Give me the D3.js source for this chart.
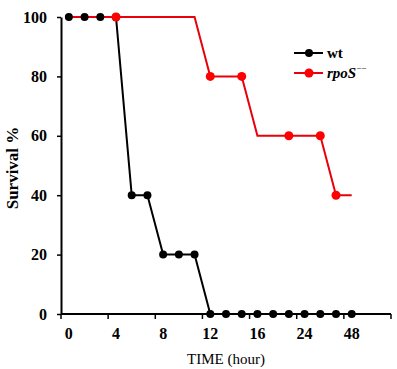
<!DOCTYPE html>
<html>
<head>
<meta charset="utf-8">
<script src="https://cdn.jsdelivr.net/npm/d3@7"></script>
<style>
  html, body { margin: 0; padding: 0; background: #fff; }
  svg { display: block; }
</style>
</head>
<body>
<svg id="chart" width="397" height="369"></svg>
<script>
// ---- data ----
const categories = d3.range(21);               // category slots on the time axis
const tickLabels = ["0", "4", "8", "12", "16", "24", "48"];
const tickLabelSlots = [0, 3, 6, 9, 12, 15, 18];
const yTicks = [0, 20, 40, 60, 80, 100];
const wtValues   = [100,100,100,100,40,40,20,20,20,0,0,0,0,0,0,0,0,0,0];
const wtMarkers  = d3.range(19);
const rpoSValues = [100,100,100,100,100,100,100,100,100,80,80,80,60,60,60,60,60,40,40];
const rpoSMarkers = [3, 9, 11, 14, 16, 17];

const svg = d3.select("#chart");
const font = "'Liberation Serif', 'Times New Roman', serif";

const x = d3.scaleBand().domain(categories).range([61, 391]).padding(0);
const xc = i => x(i) + x.bandwidth() / 2;
const y = d3.scaleLinear().domain([0, 100]).range([314, 17]);

// axes
const yAxis = d3.axisLeft(y).tickValues(yTicks).tickSize(4).tickPadding(10).tickSizeOuter(0);
const gy = svg.append("g").attr("transform", "translate(61,0)").call(yAxis);
gy.select(".domain").attr("stroke", "#000").attr("stroke-width", 2);
gy.selectAll(".tick line").attr("stroke", "#000").attr("stroke-width", 1.5);
gy.selectAll(".tick text").attr("font-family", font).attr("font-size", 16)
  .attr("font-weight", "bold").attr("fill", "#000");

// x axis line and boundary ticks
const bx = d3.scaleLinear().domain([0, 21]).range([61, 391]);
svg.append("line").attr("x1", 61).attr("x2", 391).attr("y1", y(0)).attr("y2", y(0))
  .attr("stroke", "#000").attr("stroke-width", 2);
svg.selectAll(".xtick").data(d3.range(0, 22, 3)).join("line")
  .attr("x1", d => bx(d)).attr("x2", d => bx(d))
  .attr("y1", y(0)).attr("y2", y(0) + 5)
  .attr("stroke", "#000").attr("stroke-width", 1.5);
svg.selectAll(".xlab").data(tickLabels).join("text")
  .attr("x", (d, i) => xc(tickLabelSlots[i]))
  .attr("y", 339)
  .attr("text-anchor", "middle")
  .attr("font-family", font).attr("font-size", 16).attr("font-weight", "bold")
  .text(d => d);

// axis titles
svg.append("text").attr("x", 226).attr("y", 364).attr("text-anchor", "middle")
  .attr("font-family", font).attr("font-size", 15).text("TIME (hour)");
svg.append("text").attr("transform", "translate(18,168) rotate(-90)")
  .attr("text-anchor", "middle")
  .attr("font-family", font).attr("font-size", 17).attr("font-weight", "bold")
  .text("Survival %");

// lines
const line = d3.line().x((d, i) => xc(i)).y(d => y(d));
svg.append("path").datum(wtValues).attr("d", line)
  .attr("fill", "none").attr("stroke", "#000").attr("stroke-width", 2);
svg.append("path").datum(rpoSValues).attr("d", line)
  .attr("fill", "none").attr("stroke", "#e8000b").attr("stroke-width", 2);

// markers
svg.selectAll(".wtdot").data(wtMarkers).join("circle")
  .attr("cx", i => xc(i)).attr("cy", i => y(wtValues[i])).attr("r", 4)
  .attr("fill", "#000");
svg.selectAll(".rdot").data(rpoSMarkers).join("circle")
  .attr("cx", i => xc(i)).attr("cy", i => y(rpoSValues[i])).attr("r", 4.5)
  .attr("fill", "#ff0000");

// legend
const legend = [
  { color: "#000", r: 4, y: 53, label: "wt", italic: false },
  { color: "#e8000b", r: 4.5, y: 73, label: "rpoS", italic: true }
];
legend.forEach(l => {
  svg.append("line").attr("x1", 294).attr("x2", 323).attr("y1", l.y).attr("y2", l.y)
    .attr("stroke", l.color).attr("stroke-width", 2);
  svg.append("circle").attr("cx", 309).attr("cy", l.y).attr("r", l.r)
    .attr("fill", l.color === "#000" ? "#000" : "#ff0000");
  const t = svg.append("text").attr("x", 327).attr("y", l.y + 5)
    .attr("font-family", font).attr("font-size", 15).attr("font-weight", "bold")
    .attr("font-style", l.italic ? "italic" : "normal")
    .text(l.label);
  if (l.italic) {
    t.append("tspan").attr("dy", -7).attr("font-size", 9).attr("font-style", "normal")
      .attr("font-weight", "normal").text("−−");
  }
});
</script>
</body>
</html>
